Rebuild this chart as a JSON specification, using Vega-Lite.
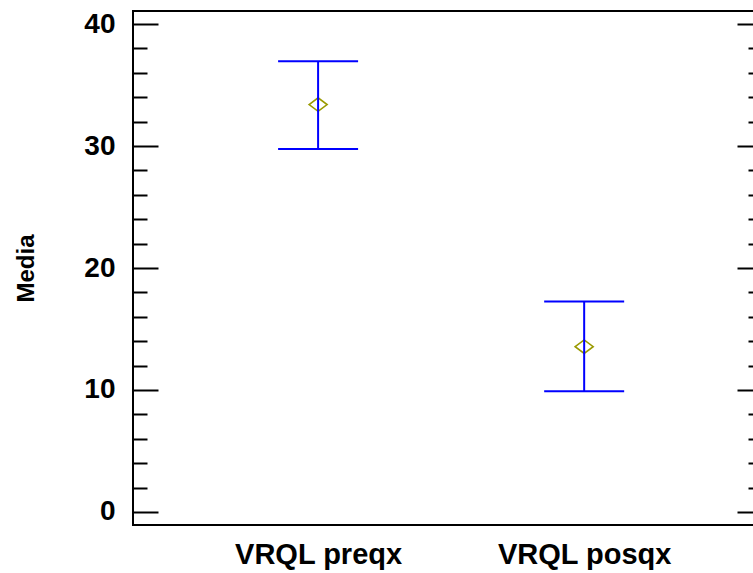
{
  "$schema": "https://vega.github.io/schema/vega-lite/v6.json",
  "width": 629,
  "height": 514,
  "autosize": "none",
  "padding": {"left": 133, "top": 11, "right": 0, "bottom": 48},
  "background": "white",
  "config": {
    "view": {"stroke": "black", "strokeWidth": 2},
    "axis": {"labelFont": "Liberation Sans", "titleFont": "Liberation Sans", "labelColor": "black", "titleColor": "black", "grid": false}
  },
  "data": {
    "values": [
      {"grupo": "VRQL preqx", "media": 33.4, "inf": 29.75, "sup": 36.95},
      {"grupo": "VRQL posqx", "media": 13.55, "inf": 9.9, "sup": 17.25}
    ]
  },
  "encoding": {
    "x": {
      "field": "grupo",
      "type": "nominal",
      "sort": null,
      "scale": {"type": "point", "padding": 0.682, "align": 0.51},
      "axis": {"title": null, "ticks": false, "domain": false, "labelAngle": 0, "labelFontSize": 29, "labelFontWeight": "bold", "labelPadding": 15}
    }
  },
  "layer": [
    {
      "mark": {"type": "point", "shape": "M-1,0L0,-0.75L1,0L0,0.75Z", "filled": false, "stroke": "#9a9a00", "strokeWidth": 1.6, "size": 324, "opacity": 1},
      "encoding": {
        "y": {
          "field": "media",
          "type": "quantitative",
          "scale": {"domain": [-1.07, 41.07], "nice": false, "zero": false},
          "axis": {
            "orient": "left",
            "title": "Media",
            "values": [0, 2, 4, 6, 8, 10, 12, 14, 16, 18, 20, 22, 24, 26, 28, 30, 32, 34, 36, 38, 40],
            "tickSize": {"condition": {"test": "datum.value % 10 === 0", "value": -25}, "value": -14},
            "tickWidth": 2,
            "tickColor": "black",
            "domain": false,
            "labelExpr": "datum.value % 10 === 0 ? datum.label : ''",
            "labelOverlap": false,
            "labelFontSize": 28,
            "labelFontWeight": "bold",
            "labelPadding": 43,
            "titleFontSize": 24,
            "titleFontWeight": "bold",
            "titlePadding": 45
          }
        }
      }
    },
    {
      "mark": {"type": "rule", "color": "#0000ff", "strokeWidth": 2},
      "encoding": {
        "y": {
          "field": "inf",
          "type": "quantitative",
          "axis": {
            "orient": "right",
            "title": null,
            "values": [0, 2, 4, 6, 8, 10, 12, 14, 16, 18, 20, 22, 24, 26, 28, 30, 32, 34, 36, 38, 40],
            "tickSize": {"condition": {"test": "datum.value % 10 === 0", "value": -25}, "value": -14},
            "tickWidth": 2,
            "tickColor": "black",
            "domain": false,
            "labels": false
          }
        },
        "y2": {"field": "sup"}
      }
    },
    {
      "mark": {"type": "tick", "color": "#0000ff", "thickness": 2, "size": 80, "opacity": 1},
      "encoding": {"y": {"field": "inf", "type": "quantitative", "axis": null}}
    },
    {
      "mark": {"type": "tick", "color": "#0000ff", "thickness": 2, "size": 80, "opacity": 1},
      "encoding": {"y": {"field": "sup", "type": "quantitative", "axis": null}}
    }
  ],
  "resolve": {"axis": {"y": "independent"}}
}
